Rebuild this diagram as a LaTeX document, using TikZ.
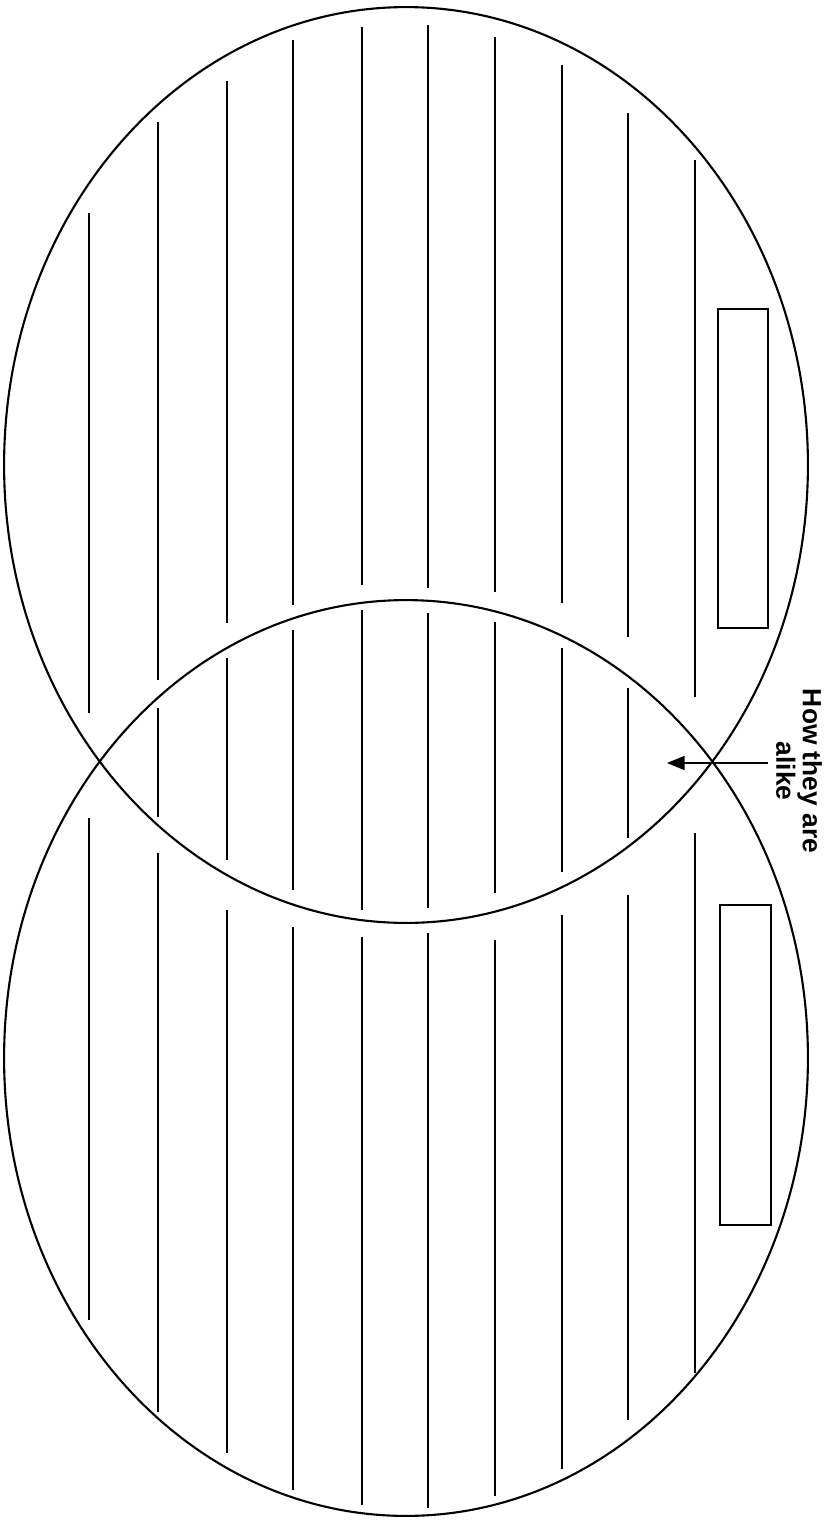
\documentclass[tikz,border=0pt]{standalone}
\usepackage{fontspec}
\setmainfont{Liberation Sans}
\usetikzlibrary{arrows.meta,shapes.geometric}

\begin{document}
\begin{tikzpicture}[x=0.02cm,y=-0.02cm,
    ring/.style={draw,ellipse,line width=1.2pt,inner sep=0pt,
      minimum width=16.08cm,minimum height=18.32cm},
    rule/.style={line width=1pt},
    namebox/.style={draw,line width=1.1pt},
    caption/.style={rotate=-90,align=center,inner sep=0pt,
      font=\fontsize{15}{13.6}\selectfont\bfseries},
    pointer/.style={line width=0.8pt,-{Triangle[length=10pt,width=8pt]}}]

  \useasboundingbox (0,0) rectangle (827,1521);

  % the two sets
  \node[ring] (upper) at (406,465) {};
  \node[ring] (lower) at (406,1058) {};

  % writing lines, broken at the arcs
  \foreach \x/\a/\b in {89/213/713, 89/818/1320,
      158/122/680, 158/708/817, 158/853/1412,
      227/81/623, 227/658/860, 227/910/1453,
      293/40/605, 293/630/890, 293/927/1490,
      362/27/585, 362/610/910, 362/937/1505,
      428/25/588, 428/613/908, 428/933/1508,
      495/37/592, 495/622/893, 495/940/1496,
      562/65/603, 562/648/872, 562/915/1469,
      628/113/637, 628/688/838, 628/895/1420,
      695/160/697, 695/833/1373}
    \draw[rule] (\x,\a) -- (\x,\b);

  % boxes for the names
  \draw[namebox] (718,309) rectangle (768,628);
  \draw[namebox] (720,905) rectangle (771,1225);

  \node[caption] (alike) at (799,771) {How they are\\alike};
  \coordinate (tail) at (768,763);
  \coordinate (tip) at (667,763);
  \draw[pointer] (tail) -- (tip);
\end{tikzpicture}
\end{document}
